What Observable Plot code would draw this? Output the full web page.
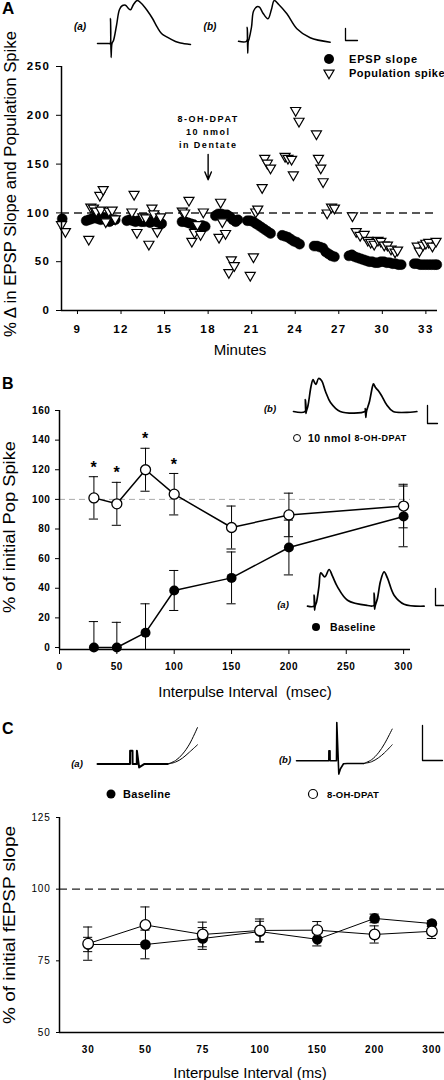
<!DOCTYPE html>
<html><head><meta charset="utf-8">
<script src="https://cdn.jsdelivr.net/npm/d3@7"></script>
<script src="https://cdn.jsdelivr.net/npm/@observablehq/plot@0.6"></script>
<style>
body{margin:0;background:#fff;}
#root{position:relative;width:444px;height:1080px;overflow:hidden;background:#fff;}
.abs{position:absolute;}
</style></head><body><div id="root"></div>
<script>
// ---------- Panel A data ----------
const epspMin = [7.95, 9.6,9.8,10.0,10.2,10.4,10.6,10.8,11.0,11.2,11.4,11.6,
  12.4,12.6,12.8,13.0,13.2,13.4,13.6,13.8,14.0,14.2,14.4,14.6,14.8,
  16.2,16.4,16.6,16.8,17.0,17.2,17.4,17.6,17.8,
  18.5,18.7,18.9,19.1,19.3,19.5,19.7,19.9,20.05,
  20.7,20.9,21.1,21.3,21.5,21.7,21.9,22.1,22.3,
  23.1,23.3,23.5,23.7,23.9,24.1,24.3,
  25.3,25.5,25.7,25.9,26.1,26.3,26.5,26.7,
  27.7,27.9,28.1,28.3,28.5,28.7,28.9,29.1,29.3,29.5,29.7,29.9,30.1,30.3,30.5,30.7,30.9,31.1,31.3,
  32.2,32.4,32.6,32.8,33.0,33.2,33.4,33.6,33.75];
const epspVal = [94, 92,93,94,95,94,93,95,93,91,93,93,
  92,93,92,91,92,91,91,92,90,92,91,90,89,
  91,91,90,89,88,86,85,87,86,
  97,99,99,98,98,96,93,91,93,
  92,92,91,89,87,85,83,81,79,
  77,76,75,73,71,70,68,
  66,66,65,64,60,58,56,55,
  56,57,55,54,53,52,51,50,50,49,49,50,50,49,49,48,48,47,47,
  48,48,47,47,47,47,47,47,47];
const spikeMin = [7.9,8.17, 9.78,9.92,10.1,10.3,10.54,10.77,10.6,10.95,11.16,11.39,11.6,
  12.75,12.9,13.1,13.5,13.7,13.92,14.13,14.26,14.5,14.72,
  16.22,16.38,16.68,16.88,17.07,17.26,17.48,17.67,
  18.75,18.86,18.98,19.2,19.43,19.6,19.8,
  20.9,21.12,21.28,21.42,21.72,21.9,22.08,22.3,
  23.3,23.5,23.75,23.87,24.03,24.26,
  25.46,25.6,25.76,25.92,26.2,26.5,26.7,
  27.94,28.2,28.47,28.75,29.0,29.2,29.44,29.7,29.9,30.13,30.35,30.6,30.88,31.05,
  32.4,32.55,32.8,33.0,33.2,33.45,33.7];
const spikeVal = [88,81, 73,106,105,102,118,124,103,91,102,103,94,
  101,119,80,96,95,68,105,99,81,96,
  102,100,113,71,80,88,78,101,
  75,111,91,79,39,52,46,
  36,55,101,104,126,156,151,146,
  158,156,155,139,205,194,
  181,156,146,132,100,106,105,
  97,81,77,78,72,70,68,72,71,67,67,63,60,62,
  66,61,67,69,70,66,71];
const minuteTicks = [9,12,15,18,21,24,27,30,33];
const pctTicksA = [0,50,100,150,200,250];

// ---------- Panel B data ----------
const ippB = [30,50,75,100,150,200,300];
const dpatB = [101,97,120,103.5,81,89.5,95.5];
const dpatBErr = [14.3,14.5,14.5,14,14.5,14.7,14.7];
const baseB = [0,0,10,38.5,47,67.5,88.5];
const baseBErr = [17.5,17,19.5,13.5,17.5,18.5,20.5];
const starIpp = [30,50,75,100];
const pctTicksB = [0,20,40,60,80,100,120,140,160];
const ippTicksB = [0,50,100,150,200,250,300];

// ---------- Panel C data ----------
const ippC = ["30","50","75","100","150","200","300"];
const baseC = [80.7,80.7,82.8,85.2,82.5,89.8,88];
const baseCErr = [2.5,5,3.8,3.6,2.3,1.5,1];
const dpatC = [81,87.5,84.2,85.6,85.7,84.2,85.3];
const dpatCErr = [5.8,6.3,4.3,4,3,3,2.5];
const pctTicksC = [50,75,100,125];

// ---------- example traces (time, amplitude) ----------
const trAa_t = [0,11,12.5,13,13.6,14.5,16,19,22,25,28,31,33,36,39.7,44,49.7,55,59.7,64,69.7,78,83,93];
const trAa_v = [0,0,0,25,-14,0,3,18,34,38,38.3,35,33.7,39,43,40,33,25,16.3,10,6.3,2,0.5,-1];
const trAb_t = [0,8,8.7,9.2,9.8,10.5,13,15,18.4,21,24.5,29.4,33,35.7,40,48.4,58.4,71.7,91.7];
const trAb_v = [0,0,14,-12,0,2,14,30,34.4,34,28,22.4,32,40.7,37,27.4,12.4,3.4,-1];
const trBb_t = [0,11.5,11.8,12.3,12.8,14.5,17.5,19.5,21,22.5,25,28,32,37,46.7,71.5,71.8,72.3,73,76,79,80,82,84.7,88,93,99.7,123.4];
const trBb_v = [0,0,12,-2,0,6,25,32,29,27,33,31,20,9,0,0,3,-6,0,10,25,27.6,24,21,16,7,0,0];
const trBa_t = [0,6.4,6.6,7,7.6,9,11.5,13.3,17.3,21.6,25,30,40,60,66.3,66.6,67,67.6,70,73,76.6,80,86.6,96.6,116.6];
const trBa_v = [0,0,11,-4,0,4,20,33.3,29.3,36.7,30,19.3,6,0.7,0.7,13,-3,0,8,25,34.3,28,11,2,0];
const trCa_t = [0,32.5,32.6,35,35.1,39.3,39.4,41.6,46.6,70];
const trCa_v = [0,0,13.3,13.3,0,0,13.3,-3.3,0,0];
const trCaHi_t = [70,78,85,92,100], trCaHi_v = [0,3.5,10,20,36.6];
const trCaLo_t = [70,78,85,92,100], trCaLo_v = [0,2,6,12,19.3];
const trCb_t = [0,32.3,32.4,33.5,33.6,40,40.3,42.3,44,47,50.7,67.3];
const trCb_v = [0,0,10,10,0,0,38.3,-13.3,-8,-3,-2.7,-2.7];
const trCbHi_t = [67.3,75,82,88,95.7], trCbHi_v = [-2.7,1,8,17,31.7];
const trCbLo_t = [67.3,75,82,88,95.7], trCbLo_v = [-2.7,-1,3,8,16];

// ---------- helpers ----------
const FONT = '"Liberation Sans", Arial, Helvetica, sans-serif';
const root = document.getElementById("root");
function place(el, left, top) {
  const d = document.createElement("div");
  d.className = "abs";
  d.style.left = left + "px"; d.style.top = top + "px";
  d.style.width = el.getAttribute("width") + "px";
  d.appendChild(el); root.appendChild(d);
}
const baseStyle = {background: "transparent", maxWidth: "none", overflow: "visible", fontFamily: FONT, fontWeight: "bold", color: "black"};
const triDown = {draw(ctx, size) {
  const s = Math.sqrt(size) * 0.6824, t = s / 2, u = s * Math.sqrt(3) / 2;
  ctx.moveTo(0, s); ctx.lineTo(u, -t); ctx.lineTo(-u, -t); ctx.closePath();
}};
const rows = (xs, ys) => xs.map((x, i) => ({x, y: ys[i]}));

// ---------- Panel A ----------
const epsp = rows(epspMin, epspVal);
const spike = rows(spikeMin, spikeVal);
const plotA = Plot.plot({
  width: 444, height: 360,
  marginLeft: 61, marginRight: 7, marginTop: 66, marginBottom: 50,
  x: {domain: [7.9, 33.8]}, y: {domain: [0, 250]},
  style: {...baseStyle, fontSize: "11.5px", letterSpacing: "1.5px"},
  marks: [
    Plot.ruleY([100], {stroke: "#222", strokeWidth: 1.5, strokeDasharray: "8,5"}),
    Plot.dot(epsp, {x: "x", y: "y", r: 5, fill: "black", stroke: "black", strokeWidth: 0.5}),
    Plot.dot(spike, {x: "x", y: "y", r: 4.8, symbol: triDown, fill: "white", stroke: "black", strokeWidth: 1.2}),
    Plot.arrow([0], {x1: () => 18, x2: () => 18, y1: () => 160, y2: () => 134, stroke: "black", strokeWidth: 1.4, headLength: 13, headAngle: 45}),
    Plot.text(["8-OH-DPAT\n10 nmol\nin Dentate"], {x: () => 18, y: () => 184, text: d => d, fontSize: 9, fontWeight: "bold", lineHeight: 1.45, letterSpacing: "0.6px"}),
    Plot.axisX({ticks: minuteTicks, tickSize: 4, tickPadding: 10, label: null}),
    Plot.axisY({ticks: pctTicksA, tickSize: 5, tickPadding: 6, label: null}),
    Plot.ruleX([7.9], {strokeWidth: 1.5}),
    Plot.ruleY([0], {strokeWidth: 1.5})
  ]
});
place(plotA, 0, 0);

// ---------- Panel B ----------
const bDpat = ippB.map((x, i) => ({x, y: dpatB[i], e: dpatBErr[i]}));
const bBase = ippB.map((x, i) => ({x, y: baseB[i], e: baseBErr[i]}));
const capB = 4;
const errMarks = (data, cap, clip) => [
  Plot.ruleX(data, {x: "x", y1: d => d.y - d.e, y2: d => d.y + d.e, stroke: "black", strokeWidth: 1, clip}),
  Plot.ruleY(data, {y: d => d.y + d.e, x1: d => d.x - cap, x2: d => d.x + cap, stroke: "black", strokeWidth: 1, clip}),
  Plot.ruleY(data, {y: d => d.y - d.e, x1: d => d.x - cap, x2: d => d.x + cap, stroke: "black", strokeWidth: 1, clip})
];
const plotB = Plot.plot({
  width: 444, height: 300,
  marginLeft: 59, marginRight: 34, marginTop: 10, marginBottom: 51,
  x: {domain: [0, 306]}, y: {domain: [-1.35, 160]},
  style: {...baseStyle, fontSize: "10px", letterSpacing: "0.6px"},
  marks: [
    Plot.ruleY([100], {stroke: "#aaa", strokeWidth: 1, strokeDasharray: "6,4"}),
    ...errMarks(bBase, capB, "frame"),
    ...errMarks(bDpat, capB, "frame"),
    Plot.line(bBase, {x: "x", y: "y", stroke: "black", strokeWidth: 1.5}),
    Plot.line(bDpat, {x: "x", y: "y", stroke: "black", strokeWidth: 1.5}),
    Plot.dot(bBase, {x: "x", y: "y", r: 5, fill: "black"}),
    Plot.dot(bDpat, {x: "x", y: "y", r: 5, fill: "white", stroke: "black", strokeWidth: 1.3}),
    Plot.text(bDpat.filter(d => starIpp.includes(d.x)), {x: "x", y: d => d.y + d.e, text: () => "*", dy: -9, fontSize: 16, fontWeight: "bold"}),
    Plot.axisX({ticks: ippTicksB, tickSize: 5, tickPadding: 8, label: null}),
    Plot.axisY({ticks: pctTicksB, tickSize: 4, tickPadding: 5, label: null}),
    Plot.ruleX([0], {strokeWidth: 1.5}),
    Plot.ruleY([-1.35], {strokeWidth: 1.5})
  ]
});
place(plotB, 0, 400);

// ---------- Panel C ----------
const cBase = ippC.map((k, i) => ({x: i, y: baseC[i], e: baseCErr[i]}));
const cDpat = ippC.map((k, i) => ({x: i, y: dpatC[i], e: dpatCErr[i]}));
const capC = 0.08;
const plotC = Plot.plot({
  width: 444, height: 280,
  marginLeft: 59, marginRight: 0, marginTop: 17, marginBottom: 48,
  x: {domain: [-0.5, 6.22]}, y: {domain: [50, 125]},
  style: {...baseStyle, fontSize: "10px", letterSpacing: "0.8px"},
  marks: [
    Plot.ruleY([100], {stroke: "#222", strokeWidth: 1.3, strokeDasharray: "8,5"}),
    ...errMarks(cBase, capC),
    ...errMarks(cDpat, capC),
    Plot.line(cBase, {x: "x", y: "y", stroke: "black", strokeWidth: 1}),
    Plot.line(cDpat, {x: "x", y: "y", stroke: "black", strokeWidth: 1}),
    Plot.dot(cBase, {x: "x", y: "y", r: 5.3, fill: "black"}),
    Plot.dot(cDpat, {x: "x", y: "y", r: 5.3, fill: "white", stroke: "black", strokeWidth: 1.3}),
    Plot.axisX({ticks: d3.range(ippC.length), tickFormat: i => ippC[i], tickSize: 0, tickPadding: 13, label: null}),
    Plot.axisY({ticks: pctTicksC, tickSize: 3, tickPadding: 6, label: null, fontWeight: "normal"}),
    Plot.ruleX([-0.5], {strokeWidth: 1.5}),
    Plot.ruleY([50], {strokeWidth: 1.5})
  ]
});
place(plotC, 0, 800);

// ---------- example traces ----------
function drawTrace(series, x0, y0) {
  const pad = 4;
  const ts = series.flatMap(s => s.t), vs = series.flatMap(s => s.v);
  const t0 = d3.min(ts), t1 = d3.max(ts), v0 = d3.min(vs), v1 = d3.max(vs);
  const w = t1 - t0 + 2 * pad, h = v1 - v0 + 2 * pad;
  const svg = Plot.plot({
    width: w, height: h, margin: pad,
    x: {domain: [t0, t1], axis: null}, y: {domain: [v0, v1], axis: null},
    style: baseStyle,
    marks: series.map(s => Plot.line(rows(s.t, s.v), {x: "x", y: "y", stroke: "black", strokeWidth: s.w, strokeLinejoin: "round", curve: s.c || "catmull-rom"}))
  });
  place(svg, x0 + t0 - pad, y0 - v1 - pad);
}
drawTrace([{t: trAa_t, v: trAa_v, w: 1.5}], 97, 43);
drawTrace([{t: trAb_t, v: trAb_v, w: 1.5}], 238.3, 40.7);
drawTrace([{t: [0, 0, 12], v: [12, 0, 0], w: 1.3, c: "linear"}], 345, 40);
drawTrace([{t: trBb_t, v: trBb_v, w: 1.7}], 293.3, 411);
drawTrace([{t: [0, 0, 10], v: [18, 0, 0], w: 1.3, c: "linear"}], 426.7, 423);
drawTrace([{t: trBa_t, v: trBa_v, w: 1.7}], 306.7, 606);
drawTrace([{t: [0, 0, 8], v: [17, 0, 0], w: 1.3, c: "linear"}], 435, 605);
drawTrace([{t: trCa_t, v: trCa_v, w: 2, c: "linear"}, {t: trCaHi_t, v: trCaHi_v, w: 1}, {t: trCaLo_t, v: trCaLo_v, w: 1}], 96.7, 763.3);
drawTrace([{t: trCb_t, v: trCb_v, w: 1.6, c: "linear"}, {t: trCbHi_t, v: trCbHi_v, w: 1}, {t: trCbLo_t, v: trCbLo_v, w: 1}], 296, 760);
drawTrace([{t: [0, 0, 20], v: [35, 0, 0], w: 1.3, c: "linear"}], 422, 760);

// ---------- labels, titles, legends ----------
const ov = d3.create("svg").attr("width", 444).attr("height", 1080)
  .style("position", "absolute").style("left", 0).style("top", 0)
  .style("overflow", "visible").style("font-family", FONT);
function txt(s, x, y, o = {}) {
  const t = ov.append("text").attr("x", x).attr("y", y).text(s)
    .attr("font-size", o.size || 11).attr("font-weight", o.weight || "bold")
    .attr("text-anchor", o.anchor || "start").attr("dominant-baseline", "central");
  if (o.italic) t.attr("font-style", "italic");
  if (o.ls) t.attr("letter-spacing", o.ls);
  if (o.len) t.attr("textLength", o.len).attr("lengthAdjust", "spacingAndGlyphs");
  if (o.rot) t.attr("transform", `rotate(-90 ${x} ${y})`);
  return t;
}
// panel letters
txt("A", 2, 8, {size: 17});
txt("B", 2, 383, {size: 16});
txt("C", 2, 728, {size: 16});
// axis titles
txt("% \u0394 in EPSP Slope and Population Spike", 10, 184, {size: 16, weight: "normal", anchor: "middle", rot: true, len: 306});
txt("% of initial Pop Spike", 9, 527, {size: 16, weight: "normal", anchor: "middle", rot: true, len: 172});
txt("% of initial fEPSP slope", 9, 925, {size: 16, weight: "normal", anchor: "middle", rot: true, len: 198});
txt("Minutes", 240, 349, {size: 15, weight: "normal", anchor: "middle"});
txt("Interpulse Interval \u00A0(msec)", 245, 691, {size: 15, weight: "normal", anchor: "middle"});
txt("Interpulse Interval (ms)", 250, 1072, {size: 15, weight: "normal", anchor: "middle"});
// panel A legend & trace labels
txt("(a)", 80, 26, {size: 10, italic: true, anchor: "middle"});
txt("(b)", 210, 26, {size: 10, italic: true, anchor: "middle"});
ov.append("circle").attr("cx", 329).attr("cy", 59).attr("r", 5).attr("fill", "black");
txt("EPSP slope", 349, 59, {size: 11, ls: "0.8px"});
ov.append("path").attr("d", d3.symbol(triDown, Math.PI * 4.8 * 4.8)()).attr("transform", "translate(329,73)")
  .attr("fill", "white").attr("stroke", "black").attr("stroke-width", 1.2);
txt("Population spike", 349, 73, {size: 11, ls: "0.5px"});
// panel B legend
txt("(b)", 270, 408, {size: 9.5, italic: true, anchor: "middle"});
ov.append("circle").attr("cx", 297).attr("cy", 438).attr("r", 3.5).attr("fill", "white").attr("stroke", "black").attr("stroke-width", 1);
const lb = txt("10 nmol ", 308, 438, {size: 10.5, ls: "0.5px"});
lb.append("tspan").attr("font-size", 9).text("8-OH-DPAT");
txt("(a)", 283, 604, {size: 9.5, italic: true, anchor: "middle"});
ov.append("circle").attr("cx", 316).attr("cy", 627).attr("r", 4).attr("fill", "black");
txt("Baseline", 330, 627, {size: 10.5, ls: "0.3px"});
// panel C legend
txt("(a)", 77, 763, {size: 9.5, italic: true, anchor: "middle"});
txt("(b)", 285, 759, {size: 9.5, italic: true, anchor: "middle"});
ov.append("circle").attr("cx", 111).attr("cy", 794).attr("r", 4.5).attr("fill", "black");
txt("Baseline", 123, 794, {size: 11, ls: "0.3px"});
ov.append("circle").attr("cx", 313).attr("cy", 794).attr("r", 4.5).attr("fill", "white").attr("stroke", "black").attr("stroke-width", 1.2);
txt("8-OH-DPAT", 327, 794, {size: 9.5, ls: "0.2px"});
root.appendChild(ov.node());
</script></body></html>
